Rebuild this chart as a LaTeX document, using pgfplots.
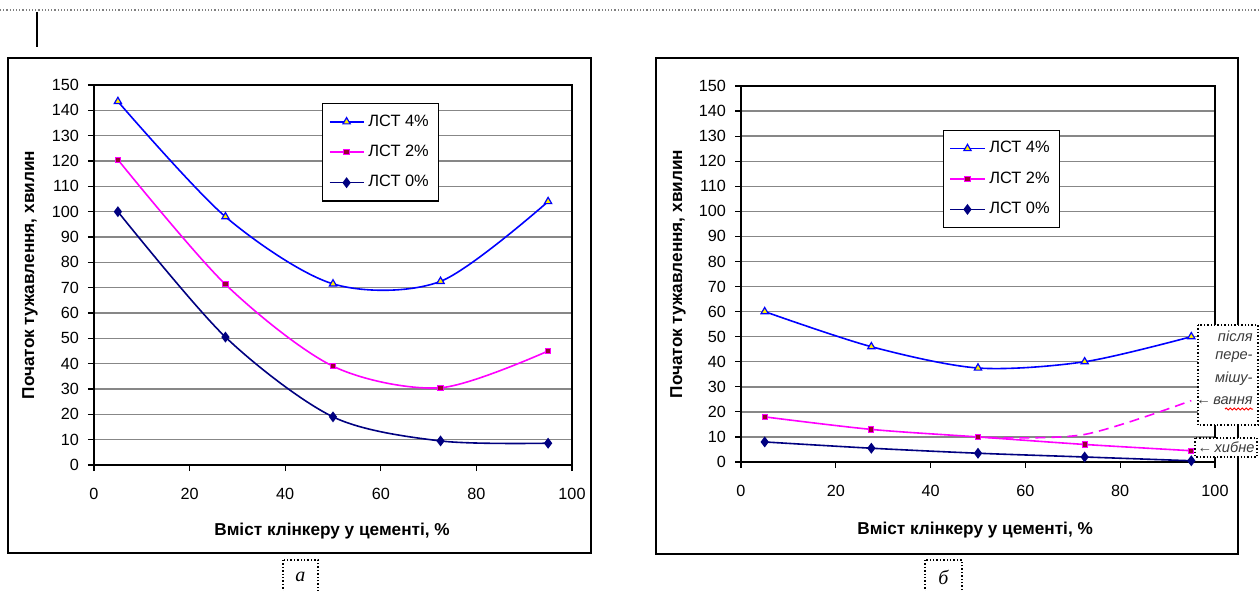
\documentclass[border=0pt]{standalone}
\usepackage{pgfplots}
\pgfplotsset{compat=1.18}
\usepackage{fontspec}
\setmainfont{Liberation Sans}
\newfontfamily\seriffont{Liberation Serif}
\usetikzlibrary{decorations.pathmorphing}

\definecolor{navyc}{RGB}{0,0,128}
\definecolor{magc}{RGB}{255,0,255}
\definecolor{bluec}{RGB}{0,0,255}
\definecolor{gridc}{RGB}{135,135,135}
\definecolor{annc}{RGB}{60,60,60}

\pgfplotsset{
 mystyle/.style={
  scale only axis,
  xmin=0,xmax=100,ymin=0,ymax=150,
  xtick={0,20,...,100}, ytick={0,10,...,150},
  tick align=outside, xtick pos=bottom, ytick pos=left,
  major tick length=3pt,
  ymajorgrids, grid style={gridc, line width=0.7pt},
  axis line style={line width=0.7pt},
  tick style={black, line width=0.6pt},
  ticklabel style={font=\fontsize{8.1}{9}\selectfont},
  /pgf/number format/assume math mode=true,
  xticklabel style={yshift=-5pt},
  yticklabel style={xshift=-1pt},
  label style={font=\bfseries\fontsize{8.6}{9}\selectfont},
  legend cell align=left,
  legend style={font=\fontsize{8.2}{9}\selectfont, draw=black, line width=0.7pt,
    row sep=4pt, inner xsep=3pt, inner ysep=3.5pt, anchor=north west},
 },
 s4/.style={color=bluec, line width=0.8pt, smooth, mark=triangle*, mark size=2.1pt,
    mark options={fill=yellow, draw=bluec, solid, line width=0.6pt}},
 s2/.style={color=magc, line width=0.8pt, smooth, mark=square*, mark size=1.3pt,
    mark options={fill=purple!80!black, draw=magc, solid, line width=0.5pt}},
 s0/.style={color=navyc, line width=0.8pt, smooth, mark=diamond*, mark size=2.1pt,
    mark options={fill=navyc, draw=navyc, solid}},
}

\begin{document}
\begin{tikzpicture}
\path[use as bounding box] (0,0) rectangle (630pt,-295pt);
% top decorations
\draw[densely dotted, gray, line width=0.6pt] (0,-5pt) -- (630pt,-5pt);
\draw[line width=0.6pt] (18.5pt,-6pt) -- (18.5pt,-23.5pt);
% outer frames
\draw[line width=0.8pt] (4pt,-29pt) rectangle (295.5pt,-276.5pt);
\draw[line width=0.8pt] (328pt,-29pt) rectangle (619pt,-277pt);

% left chart
\begin{axis}[mystyle, at={(47pt,-232.5pt)}, anchor=south west,
  width=239pt, height=190pt,
  xlabel={Вміст клінкеру у цементі, \%},
  ylabel={Початок тужавлення, хвилин},
  xlabel style={at={(axis description cs:0.498,-0.174)}, anchor=center},
  ylabel style={at={(axis description cs:-0.134,0.5)}, anchor=center},
  legend style={at={(axis description cs:0.477,0.953)}},
]
\addplot[s4] coordinates {(5,143.5) (27.5,98) (50,71.5) (72.5,72.5) (95,104)};
\addlegendentry{ЛСТ 4\%}
\addplot[s2] coordinates {(5,120.5) (27.5,71.3) (50,39) (72.5,30.5) (95,45)};
\addlegendentry{ЛСТ 2\%}
\addplot[s0] coordinates {(5,100) (27.5,50.5) (50,19) (72.5,9.5) (95,8.6)};
\addlegendentry{ЛСТ 0\%}
\end{axis}

% right chart
\begin{axis}[mystyle, at={(370.5pt,-231pt)}, anchor=south west,
  width=237pt, height=188pt,
  xlabel={Вміст клінкеру у цементі, \%},
  ylabel={Початок тужавлення, хвилин},
  xlabel style={at={(axis description cs:0.494,-0.18)}, anchor=center},
  ylabel style={at={(axis description cs:-0.133,0.5)}, anchor=center},
  legend style={at={(axis description cs:0.426,0.884)}},
]
\addplot[s4] coordinates {(5,60) (27.5,46) (50,37.5) (72.5,40) (95,50)};
\addlegendentry{ЛСТ 4\%}
\addplot[s2] coordinates {(5,18) (27.5,13) (50,10) (72.5,7) (95,4.5)};
\addlegendentry{ЛСТ 2\%}
\addplot[s0] coordinates {(5,8) (27.5,5.5) (50,3.5) (72.5,2) (95,0.5)};
\addlegendentry{ЛСТ 0\%}
\addplot[magc, line width=0.8pt, dash pattern=on 5pt off 3pt, smooth, forget plot] coordinates {(52,9.8) (72.5,11) (95,24.5)};
\end{axis}

% annotations right
\draw[densely dotted, line width=0.7pt, fill=white] (599pt,-162.5pt) rectangle (629pt,-212.5pt);
\begin{scope}[every node/.style={font=\itshape\fontsize{7.3}{8}\selectfont, text=annc, anchor=east, inner sep=0pt}]
\node at (626.5pt,-168pt) {після};
\node at (626.5pt,-178.5pt) {пере-};
\node at (626.5pt,-189.5pt) {мішу-};
\node at (626.5pt,-200.5pt) {←\,вання};
\end{scope}
\draw[red, line width=0.5pt, decorate, decoration={snake, amplitude=0.5pt, segment length=2pt}] (612.5pt,-204.5pt) -- (626.5pt,-204.5pt);
\draw[densely dotted, line width=0.7pt, fill=white] (597.5pt,-219pt) rectangle (628.5pt,-228.5pt);
\node[font=\itshape\fontsize{7.3}{8}\selectfont, text=annc, anchor=center, inner sep=0pt] at (613pt,-223.7pt) {←\,хибне};

% captions
\draw[densely dotted, line width=0.7pt] (141.5pt,-280pt) rectangle (159pt,-297pt);
\node[font=\seriffont\itshape\fontsize{10}{12}\selectfont] at (150.2pt,-288.5pt) {а};
\draw[densely dotted, line width=0.7pt] (462.5pt,-280pt) rectangle (481pt,-297pt);
\node[font=\seriffont\itshape\fontsize{10}{12}\selectfont] at (471.7pt,-288.5pt) {б};
\end{tikzpicture}
\end{document}
